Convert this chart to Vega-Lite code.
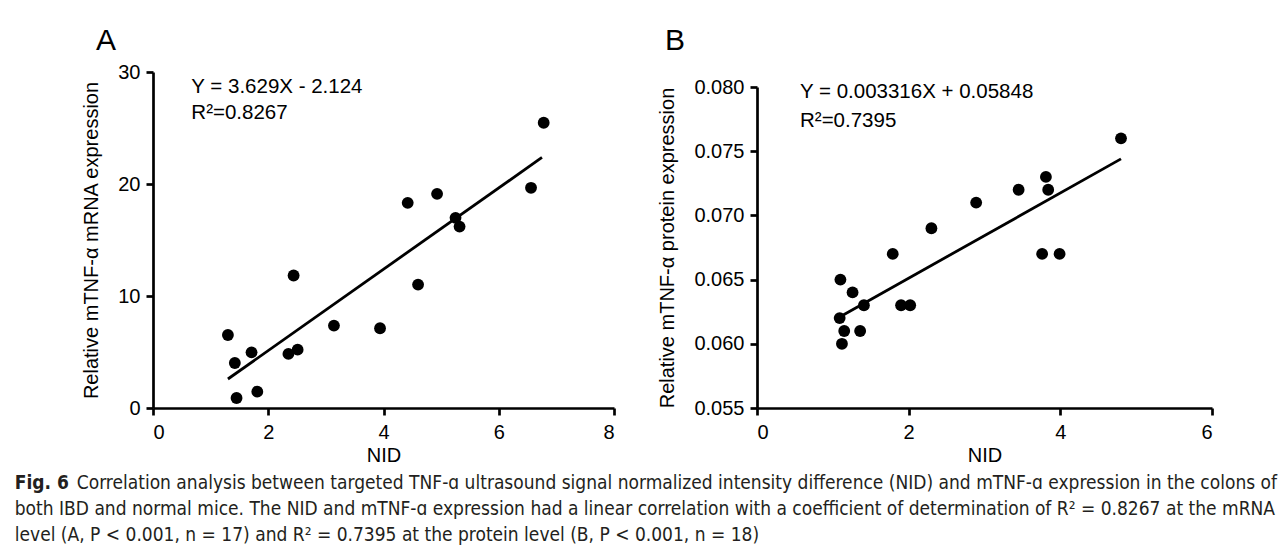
{
  "$schema": "https://vega.github.io/schema/vega-lite/v6.json",
  "background": "white",
  "padding": {"left": 14, "top": 26, "right": 5, "bottom": 5},
  "title": {
    "text": [
      "both IBD and normal mice. The NID and mTNF-ɑ expression had a linear correlation with a coefficient of determination of R² = 0.8267 at the mRNA",
      "level (A, P < 0.001, n = 17) and R² = 0.7395 at the protein level (B, P < 0.001, n = 18)"
    ],
    "orient": "bottom",
    "anchor": "start",
    "offset": 7,
    "font": "DejaVu Sans Condensed, Roboto, sans-serif",
    "fontSize": 19,
    "fontWeight": "normal",
    "lineHeight": 26,
    "color": "#231f20"
  },
  "datasets": {
    "pointsA": [
      {"nid": 6.78, "mrna": 25.47},
      {"nid": 6.56, "mrna": 19.66},
      {"nid": 4.93, "mrna": 19.12},
      {"nid": 4.42, "mrna": 18.32},
      {"nid": 5.25, "mrna": 16.98},
      {"nid": 5.32, "mrna": 16.2},
      {"nid": 4.6, "mrna": 11.02},
      {"nid": 2.44, "mrna": 11.83},
      {"nid": 3.14, "mrna": 7.36},
      {"nid": 3.94, "mrna": 7.12},
      {"nid": 1.3, "mrna": 6.52},
      {"nid": 1.71, "mrna": 4.97},
      {"nid": 2.35, "mrna": 4.83},
      {"nid": 2.51, "mrna": 5.21},
      {"nid": 1.42, "mrna": 4.02},
      {"nid": 1.45, "mrna": 0.89},
      {"nid": 1.81, "mrna": 1.46}
    ],
    "lineA": [
      {"nid": 1.3, "mrna": 2.59},
      {"nid": 6.75, "mrna": 22.37}
    ],
    "pointsB": [
      {"nid": 4.8, "protein": 0.076},
      {"nid": 3.81, "protein": 0.073},
      {"nid": 3.84, "protein": 0.072},
      {"nid": 3.45, "protein": 0.072},
      {"nid": 2.89, "protein": 0.071},
      {"nid": 2.3, "protein": 0.069},
      {"nid": 1.79, "protein": 0.067},
      {"nid": 3.76, "protein": 0.067},
      {"nid": 3.99, "protein": 0.067},
      {"nid": 1.1, "protein": 0.065},
      {"nid": 1.26, "protein": 0.064},
      {"nid": 1.41, "protein": 0.063},
      {"nid": 1.9, "protein": 0.063},
      {"nid": 2.02, "protein": 0.063},
      {"nid": 1.09, "protein": 0.062},
      {"nid": 1.15, "protein": 0.061},
      {"nid": 1.36, "protein": 0.061},
      {"nid": 1.12, "protein": 0.06}
    ],
    "lineB": [
      {"nid": 1.09, "protein": 0.06209},
      {"nid": 4.8, "protein": 0.07440}
    ],
    "one": [{}]
  },
  "config": {
    "view": {"stroke": null},
    "axis": {
      "grid": false,
      "domainColor": "black",
      "domainWidth": 2.7,
      "tickColor": "black",
      "tickWidth": 2.7,
      "tickSize": 7,
      "labelFont": "Liberation Sans",
      "labelFontSize": 20,
      "labelColor": "black",
      "titleFont": "Liberation Sans",
      "titleFontSize": 20,
      "titleFontWeight": "normal",
      "titleColor": "black"
    },
    "axisX": {"labelPadding": 7, "titlePadding": 3},
    "axisY": {"labelPadding": 6, "titlePadding": 16}
  },
  "vconcat": [
    {
      "title": {
        "text": "Correlation analysis between targeted TNF-ɑ ultrasound signal normalized intensity difference (NID) and mTNF-ɑ expression in the colons of",
        "orient": "bottom",
        "anchor": "start",
        "dx": 62,
        "offset": -19,
        "font": "DejaVu Sans Condensed, Roboto, sans-serif",
        "fontSize": 19,
        "fontWeight": "normal",
        "color": "#231f20"
      },
      "vconcat": [
        {
          "title": {
            "text": "Fig. 6",
            "orient": "bottom",
            "anchor": "start",
            "dx": -67,
            "offset": 9,
            "font": "DejaVu Sans Condensed, Roboto, sans-serif",
            "fontSize": 19,
            "fontWeight": "bold",
            "color": "#231f20"
          },
          "spacing": 41,
          "hconcat": [
            {
              "width": 461,
              "height": 336,
              "title": {"text": "A", "anchor": "start", "frame": "group", "dx": -57, "offset": 6, "fontSize": 30, "font": "Liberation Sans", "fontWeight": "normal", "color": "black"},
              "layer": [
                {
                  "data": {"name": "pointsA"},
                  "mark": {"type": "point", "filled": true, "shape": "circle", "size": 140, "color": "black", "opacity": 1},
                  "encoding": {
                    "x": {"field": "nid", "type": "quantitative", "scale": {"domain": [0, 8], "nice": false}, "axis": {"values": [0, 2, 4, 6, 8], "format": "d", "title": "NID"}},
                    "y": {"field": "mrna", "type": "quantitative", "scale": {"domain": [0, 30], "nice": false}, "axis": {"values": [0, 10, 20, 30], "format": "d", "title": "Relative mTNF-α mRNA expression"}}
                  }
                },
                {
                  "data": {"name": "lineA"},
                  "mark": {"type": "line", "color": "black", "strokeWidth": 2.8},
                  "encoding": {
                    "x": {"field": "nid", "type": "quantitative"},
                    "y": {"field": "mrna", "type": "quantitative"}
                  }
                },
                {
                  "data": {"name": "one"},
                  "mark": {"type": "text", "align": "left", "baseline": "middle", "fontSize": 20.5, "font": "Liberation Sans", "color": "black"},
                  "encoding": {"x": {"datum": 0.665}, "y": {"datum": 28.69}, "text": {"value": "Y = 3.629X - 2.124"}}
                },
                {
                  "data": {"name": "one"},
                  "mark": {"type": "text", "align": "left", "baseline": "middle", "fontSize": 20.5, "font": "Liberation Sans", "color": "black"},
                  "encoding": {"x": {"datum": 0.665}, "y": {"datum": 26.37}, "text": {"value": "R²=0.8267"}}
                }
              ]
            },
            {
              "width": 455,
              "height": 336,
              "title": {"text": "B", "anchor": "start", "frame": "group", "dx": -92, "offset": 16, "fontSize": 30, "font": "Liberation Sans", "fontWeight": "normal", "color": "black"},
              "layer": [
                {
                  "data": {"name": "pointsB"},
                  "mark": {"type": "point", "filled": true, "shape": "circle", "size": 140, "color": "black", "opacity": 1},
                  "encoding": {
                    "x": {"field": "nid", "type": "quantitative", "scale": {"domain": [0, 6], "nice": false}, "axis": {"values": [0, 2, 4, 6], "format": "d", "title": "NID"}},
                    "y": {"field": "protein", "type": "quantitative", "scale": {"domain": [0.055, 0.08], "nice": false, "zero": false, "range": [336, 15]}, "axis": {"values": [0.055, 0.06, 0.065, 0.07, 0.075, 0.08], "format": ".3f", "title": "Relative mTNF-α protein expression"}}
                  }
                },
                {
                  "data": {"name": "lineB"},
                  "mark": {"type": "line", "color": "black", "strokeWidth": 2.8},
                  "encoding": {
                    "x": {"field": "nid", "type": "quantitative"},
                    "y": {"field": "protein", "type": "quantitative"}
                  }
                },
                {
                  "data": {"name": "one"},
                  "mark": {"type": "text", "align": "left", "baseline": "middle", "fontSize": 20.5, "font": "Liberation Sans", "color": "black"},
                  "encoding": {"x": {"datum": 0.567}, "y": {"datum": 0.07959}, "text": {"value": "Y = 0.003316X + 0.05848"}}
                },
                {
                  "data": {"name": "one"},
                  "mark": {"type": "text", "align": "left", "baseline": "middle", "fontSize": 20.5, "font": "Liberation Sans", "color": "black"},
                  "encoding": {"x": {"datum": 0.567}, "y": {"datum": 0.07738}, "text": {"value": "R²=0.7395"}}
                }
              ]
            }
          ]
        }
      ]
    }
  ]
}
